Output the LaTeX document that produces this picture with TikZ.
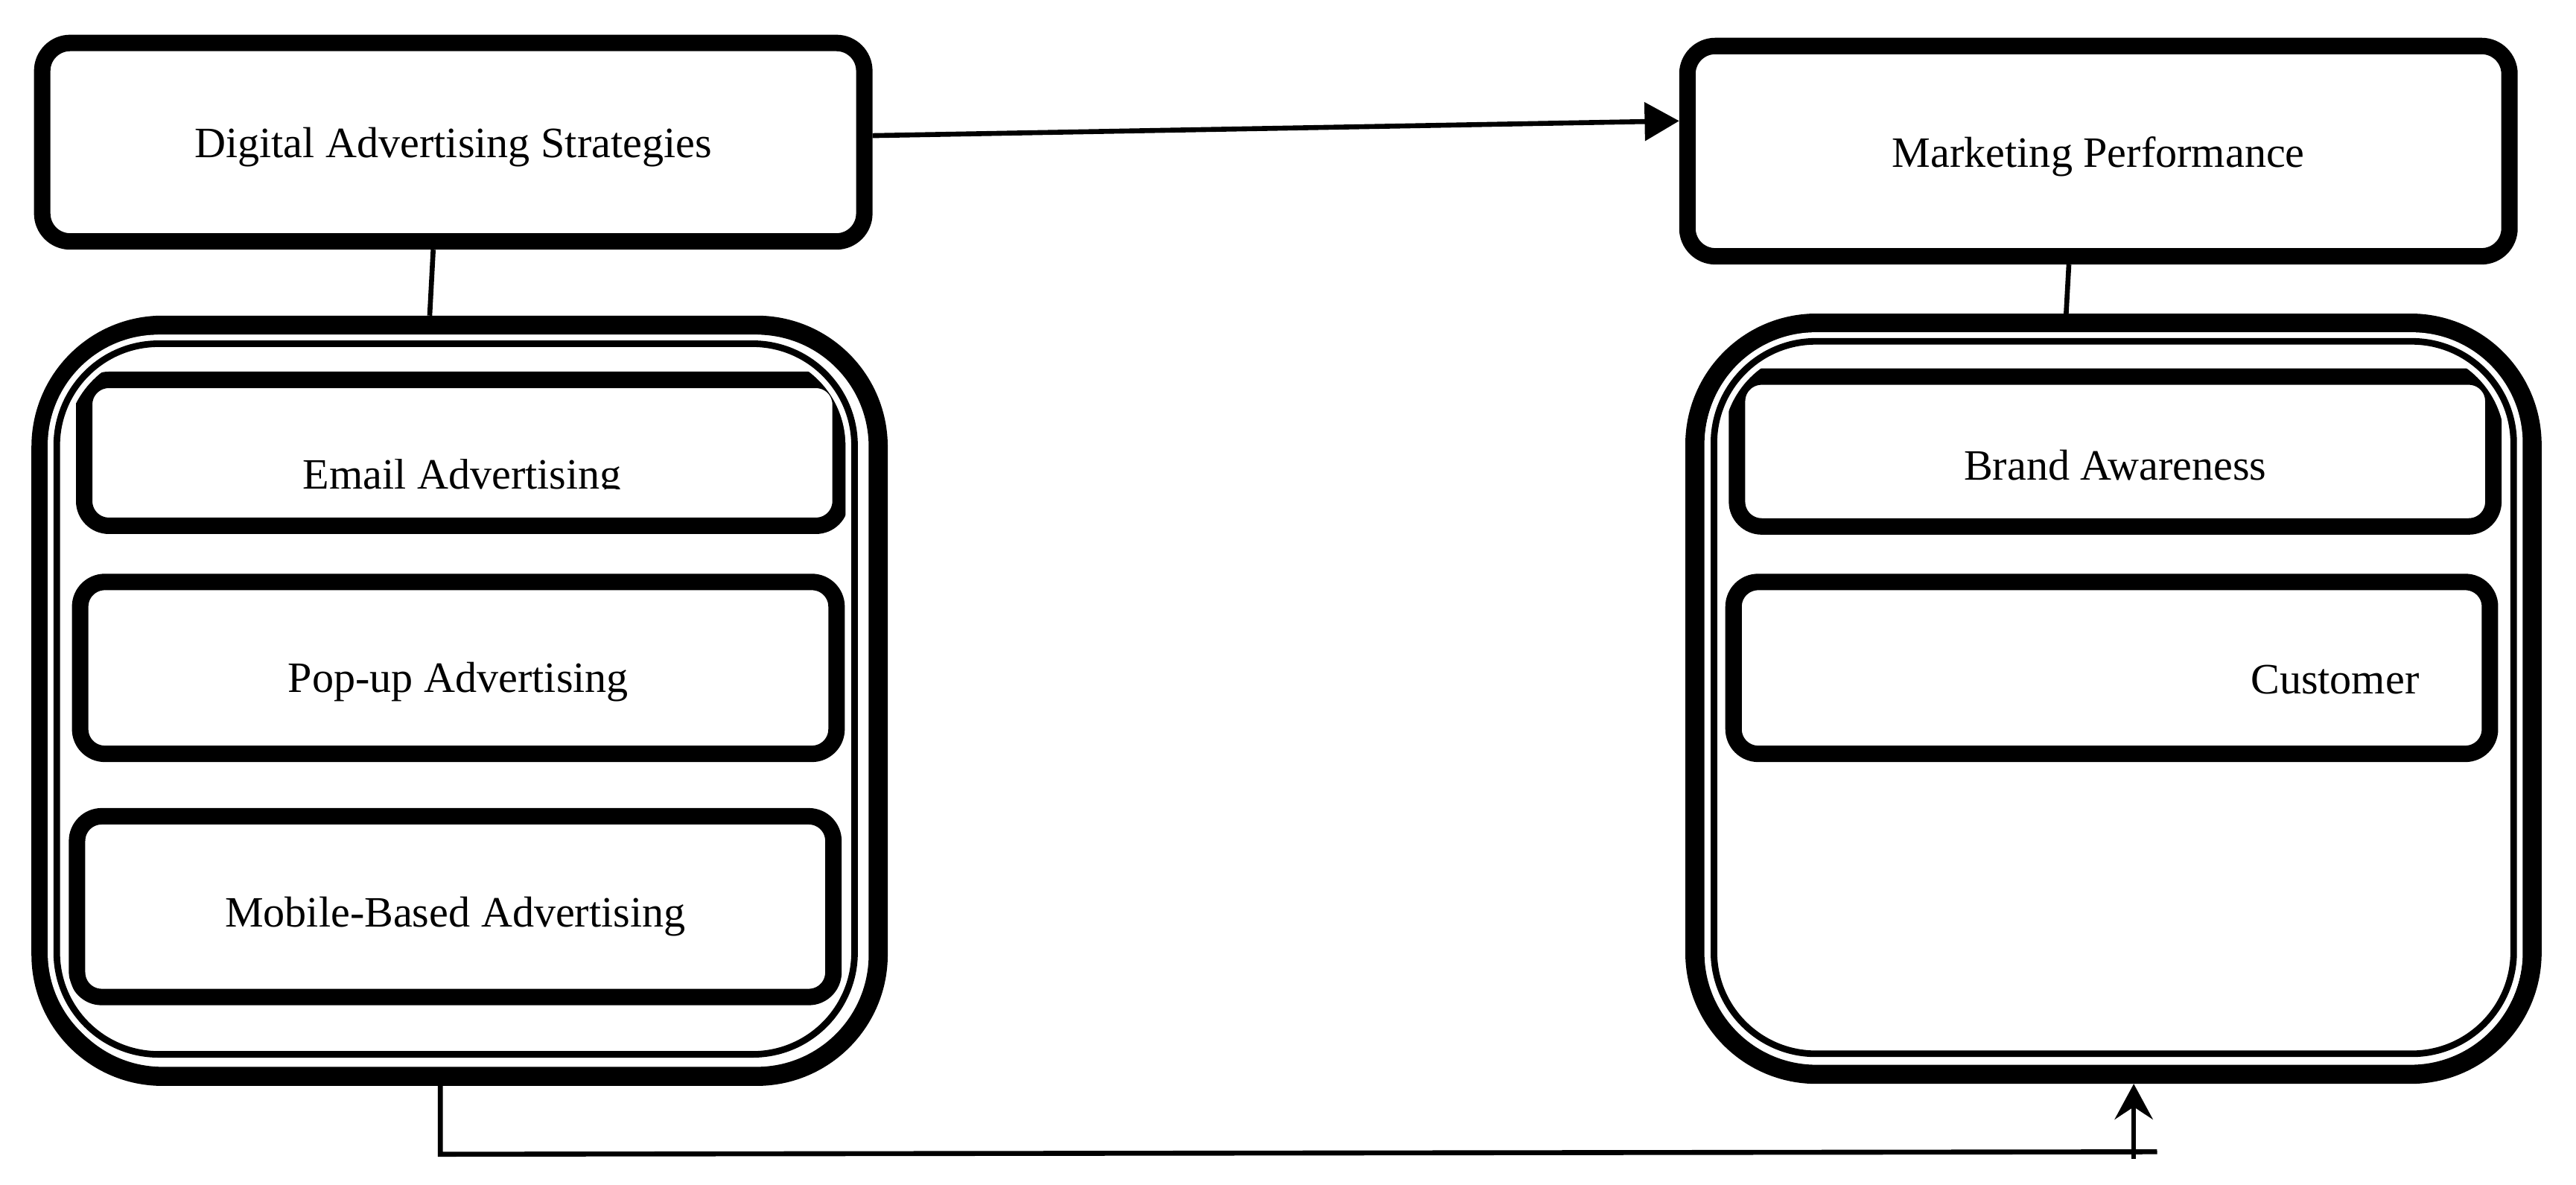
\documentclass[tikz,border=0pt]{standalone}
\usepackage{fontspec}
\setmainfont{Liberation Serif}
\usepackage{trimclip}
\usetikzlibrary{arrows.meta}

\begin{document}
\begin{tikzpicture}[x=0.25mm, y=-0.25mm,
		every node/.style={font=\fontsize{18.75pt}{22pt}\selectfont, inner sep=0pt, text depth=1.65mm},
		headbox/.style={draw, line width=2.5mm, rounded corners=4.25mm, minimum width=125.1mm},
		itembox/.style={draw, line width=2.5mm, rounded corners=3.75mm, minimum width=115.1mm},
		groupbox/.style={draw, line width=2.9mm, rounded corners=18.5mm, minimum width=127.4mm, minimum height=114.3mm},
		ring/.style={draw=white, line width=0.875mm, double=black, double distance=1mm, rounded corners=15.5mm},
		link/.style={line width=0.75mm}]
		\useasboundingbox (0,0) rectangle (1568,720.8);
		% heads
		\node[headbox, minimum height=30.2mm, text height=6.4mm] (das) at (275.9,86.55) {Digital Advertising Strategies};
		\node[headbox, minimum height=32mm, text height=6.55mm] (mp) at (1277.3,92) {Marketing Performance};
		% groups
		\node[groupbox] (left) at (279.75,426.5) {};
		\node[groupbox] (right) at (1286.45,425.25) {};
		% items, left
		\node[itembox, minimum height=22.2mm, text height=12.65mm] (email) at (281.45,275.6) {\clipbox{0pt 4.1pt 0pt 0pt}{Email Advertising}};
		\node[itembox, minimum height=26.15mm, text height=9.05mm] (popup) at (279,406.5) {Pop-up Advertising};
		\node[itembox, minimum height=27.5mm, text height=7.85mm] (mobile) at (277.1,551.8) {Mobile-Based Advertising};
		% items, right
		\node[itembox, minimum height=22.8mm, text height=10.25mm] (brand) at (1287.5,274.8) {Brand Awareness};
		\node[itembox, minimum height=26.15mm, text height=9.55mm, text width=93.55mm, align=right] (customer) at (1285.4,406.5) {Customer};
		% inner lines of the groups
		\draw[ring] ([shift={(15.4,17.1)}]left.north west) rectangle ([shift={(-20.2,-19.2)}]left.south east);
		\draw[ring] ([shift={(17.4,16.9)}]right.north west) rectangle ([shift={(-17,-18.3)}]right.south east);
		% connectors
		\draw[link, -{Triangle[length=5.25mm, width=5.75mm]}] ([yshift=1mm]das.east) -- ([yshift=4.6mm]mp.west);
		\draw[link] ([xshift=-3.05mm]das.south) -- ([xshift=-4.55mm]left.north);
		\draw[link] ([xshift=-4.5mm]mp.south) -- ([xshift=-7.2mm]right.north);
		\coordinate (jl) at (268,702.5);
		\coordinate (jr) at (1313,701);
		\coordinate (ja) at (1298.8,705.2);
		\draw[link] (left.south -| jl) -- (jl) -- (jr);
		\draw[link, -{Stealth[length=5.4mm, width=5.8mm, inset=1.9mm]}] (ja) -- (ja |- right.south);
\end{tikzpicture}
\end{document}
